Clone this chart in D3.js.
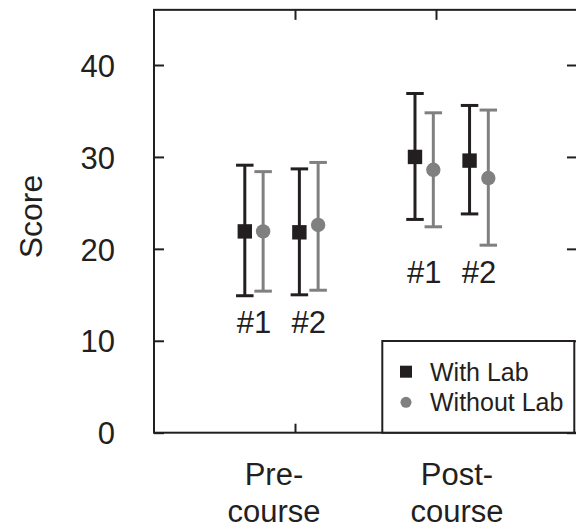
<!DOCTYPE html>
<html><head><meta charset="utf-8">
<script src="https://cdn.jsdelivr.net/npm/d3@7"></script>
<style>body{margin:0;background:#fff}svg{display:block}text{font-family:"Liberation Sans",Arial,sans-serif;fill:#231f20}</style>
</head><body><svg id="c" width="576" height="529"></svg>
<script>
const categories = [["Pre-","course"],["Post-","course"]];
const tests = ["#1","#2"];
const seriesNames = ["With Lab","Without Lab"];
// order: Pre #1, Pre #2, Post #1, Post #2
const withLabMean = [21.9, 21.8, 30.0, 29.6];
const withLabLow  = [14.9, 15.0, 23.2, 23.8];
const withLabHigh = [29.1, 28.7, 36.9, 35.6];
const withoutLabMean = [21.9, 22.6, 28.6, 27.7];
const withoutLabLow  = [15.4, 15.5, 22.4, 20.4];
const withoutLabHigh = [28.4, 29.4, 34.8, 35.1];
const yTicks = [0,10,20,30,40];

const black = "#231f20", gray = "#808080";
const svg = d3.select("#c");
const x = d3.scaleLinear().domain([0,3]).range([154,577]);
const y = d3.scaleLinear().domain([0,46]).range([432.7,9.85]);

// layout offsets
const catShift = [-0.096, 0.111];
const seriesOff = [[-0.26,-0.13],[0.127,0.26]]; // [test][series]
const catLabelShift = [-0.149, 0.149];

// frame
const fr = svg.append("g");
fr.append("rect").attr("x",x(0)).attr("y",y(46)).attr("width",x(3)-x(0)).attr("height",y(0)-y(46))
  .attr("fill","none").attr("stroke",black).attr("stroke-width",2);

// axes
const yl = d3.axisLeft(y).tickValues(yTicks).tickSizeInner(-10).tickSizeOuter(0).tickPadding(39);
const gy = svg.append("g").attr("transform",`translate(${x(0)},0)`).call(yl);
gy.select(".domain").remove();
gy.selectAll("line").attr("stroke",black).attr("stroke-width",2);
gy.selectAll("text").style("font-size","31px").attr("fill",black).attr("dy","0.36em");

const yr = d3.axisRight(y).tickValues(yTicks).tickSizeInner(-10).tickSizeOuter(0).tickFormat("");
const gyr = svg.append("g").attr("transform",`translate(${x(3)},0)`).call(yr);
gyr.select(".domain").remove();
gyr.selectAll("line").attr("stroke",black).attr("stroke-width",2);

const xb = d3.axisBottom(x).tickValues([1,2]).tickSizeInner(-9).tickSizeOuter(0).tickFormat("");
const gxb = svg.append("g").attr("transform",`translate(0,${y(0)})`).call(xb);
gxb.select(".domain").remove();
gxb.selectAll("line").attr("stroke",black).attr("stroke-width",2);
const xt = d3.axisTop(x).tickValues([1,2]).tickSizeInner(-10).tickSizeOuter(0).tickFormat("");
const gxt = svg.append("g").attr("transform",`translate(0,${y(46)})`).call(xt);
gxt.select(".domain").remove();
gxt.selectAll("line").attr("stroke",black).attr("stroke-width",2);

// category labels
categories.forEach((c,i)=>{
  const t = svg.append("text").attr("x",x(i+1+catLabelShift[i])).attr("text-anchor","middle").style("font-size","31px");
  t.append("tspan").attr("x",x(i+1+catLabelShift[i])).attr("y",485).text(c[0]);
  t.append("tspan").attr("x",x(i+1+catLabelShift[i])).attr("y",522).text(c[1]);
});

// Y label
svg.append("text").attr("transform",`translate(42,216.5) rotate(-90)`).attr("text-anchor","middle")
  .style("font-size","32px").text("Score");

// data points
const series = [
  {name:seriesNames[0], mean:withLabMean, low:withLabLow, high:withLabHigh, color:black, shape:"square"},
  {name:seriesNames[1], mean:withoutLabMean, low:withoutLabLow, high:withoutLabHigh, color:gray, shape:"circle"}
];
const capW = 17.5;
const pts = svg.append("g");
for (let ci=0; ci<categories.length; ci++){
  for (let ti=0; ti<tests.length; ti++){
    const idx = ci*tests.length+ti;
    series.forEach((s,si)=>{
      const px = x(ci+1+catShift[ci]+seriesOff[ti][si]);
      pts.append("line").attr("x1",px).attr("x2",px).attr("y1",y(s.low[idx])).attr("y2",y(s.high[idx]))
        .attr("stroke",s.color).attr("stroke-width",3);
      [s.low[idx],s.high[idx]].forEach(v=>{
        pts.append("line").attr("x1",px-capW/2).attr("x2",px+capW/2).attr("y1",y(v)).attr("y2",y(v))
          .attr("stroke",s.color).attr("stroke-width",3);
      });
      if (s.shape==="square"){
        pts.append("rect").attr("x",px-7.2).attr("y",y(s.mean[idx])-7.2).attr("width",14.4).attr("height",14.4).attr("fill",s.color);
      } else {
        pts.append("circle").attr("cx",px).attr("cy",y(s.mean[idx])).attr("r",7.2).attr("fill",s.color);
      }
    });
    // test label
    const lx = x(ci+1+catShift[ci]+(seriesOff[ti][0]+seriesOff[ti][1])/2);
    const minLow = d3.min(series.flatMap(s=>[0,1].map(k=>s.low[ci*tests.length+k])));
    svg.append("text").attr("x",lx).attr("y",y(minLow)+37.5).attr("text-anchor","middle")
      .style("font-size","31px").text(tests[ti]);
  }
}

// legend
const lg = svg.append("g");
lg.append("rect").attr("x",382.3).attr("y",341).attr("width",192).attr("height",y(0)-341)
  .attr("fill","#fff").attr("stroke",black).attr("stroke-width",2);
series.forEach((s,i)=>{
  const cy = 371.7 + i*30.6;
  if (s.shape==="square") lg.append("rect").attr("x",400).attr("y",cy-6).attr("width",12).attr("height",12).attr("fill",s.color);
  else lg.append("circle").attr("cx",406).attr("cy",cy).attr("r",5.5).attr("fill",s.color);
  lg.append("text").attr("x",430).attr("y",cy+9).style("font-size","25px").text(s.name);
});
</script></body></html>
